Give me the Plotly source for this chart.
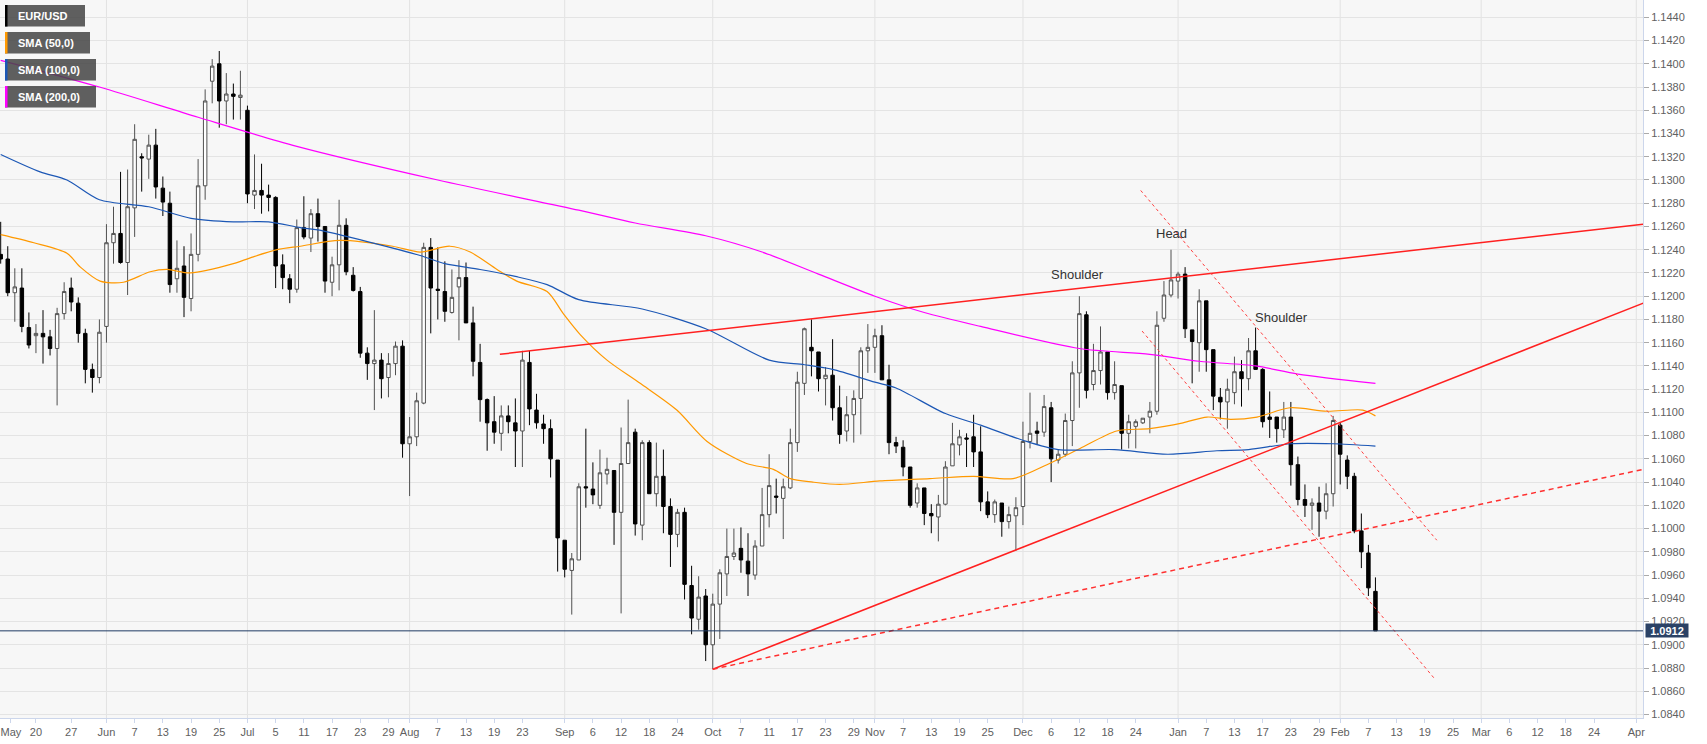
import pandas as pd
import plotly.graph_objects as go

# ---------------- data ----------------
START = "2019-05-13"          # first daily candle (weekdays only)
AXIS_END = "2020-04-01"

OPEN = [1.1236,1.1232,1.1203,1.1207,1.1173,1.1166,1.1168,1.1165,1.1155,1.1185,
        1.1207,1.1194,1.1168,1.1137,1.1130,1.1174,1.1246,1.1254,1.1229,1.1276,
        1.1320,1.1318,1.1330,1.1293,1.1280,1.1215,1.1226,1.1198,1.1236,1.1295,
        1.1385,1.1400,1.1368,1.1374,1.1371,1.1360,1.1287,1.1291,1.1287,1.1285,
        1.1227,1.1215,1.1206,1.1259,1.1250,1.1271,1.1260,1.1212,1.1227,1.1261,
        1.1218,1.1204,1.1151,1.1142,1.1145,1.1130,1.1142,1.1157,1.1073,1.1079,
        1.1108,1.1242,1.1206,1.1204,1.1186,1.1208,1.1216,1.1177,1.1143,1.1111,
        1.1092,1.1082,1.1097,1.1091,1.1084,1.1143,1.1102,1.1090,1.1086,1.1059,
        1.0990,1.0964,1.0973,1.1036,1.1034,1.1020,1.1047,1.1050,1.1014,1.1056,
        1.1083,1.1003,1.1074,1.1030,1.1045,1.1019,1.0995,1.1014,1.0951,1.0922,
        1.0942,1.0900,1.0935,1.0961,1.0976,1.0983,1.0972,1.0960,1.0985,1.1012,
        1.1028,1.1026,1.1035,1.1074,1.1125,1.1156,1.1152,1.1129,1.1132,1.1104,
        1.1084,1.1098,1.1112,1.1153,1.1156,1.1166,1.1128,1.1074,1.1070,1.1053,
        1.1022,1.1035,1.1013,1.1010,1.1021,1.1054,1.1072,1.1078,1.1079,1.1066,
        1.1023,1.1012,1.1022,1.1006,1.1011,1.1019,1.1075,1.1084,1.1083,1.1104,
        1.1059,1.1064,1.1093,1.1134,1.1184,1.1124,1.1136,1.1152,1.1117,1.1123,
        1.1082,1.1088,1.1091,1.1096,1.1101,1.1181,1.1201,1.1213,1.1219,1.1171,
        1.1160,1.1196,1.1154,1.1113,1.1109,1.1117,1.1135,1.1129,1.1153,1.1137,
        1.1096,1.1096,1.1085,1.1096,1.1055,1.1025,1.1020,1.1022,1.1015,1.1030,
        1.1089,1.1059,1.1045,1.0998,1.0979,1.0946]
HIGH = [1.1264,1.1243,1.1224,1.1224,1.1186,1.1176,1.1188,1.1171,1.1190,1.1212,
        1.1216,1.1199,1.1172,1.1142,1.1180,1.1262,1.1277,1.1307,1.1309,1.1348,
        1.1323,1.1339,1.1344,1.1303,1.1290,1.1248,1.1243,1.1254,1.1318,1.1378,
        1.1404,1.1411,1.1392,1.1383,1.1394,1.1364,1.1322,1.1314,1.1296,1.1286,
        1.1236,1.1219,1.1266,1.1286,1.1275,1.1284,1.1260,1.1234,1.1283,1.1267,
        1.1225,1.1208,1.1156,1.1188,1.1151,1.1151,1.1161,1.1162,1.1096,1.1117,
        1.1246,1.1250,1.1242,1.1230,1.1223,1.1231,1.1229,1.1191,1.1159,1.1112,
        1.1114,1.1106,1.1106,1.1112,1.1153,1.1153,1.1116,1.1098,1.1094,1.1059,
        1.0990,1.0979,1.1039,1.1086,1.1057,1.1068,1.1061,1.1050,1.1087,1.1111,
        1.1086,1.1076,1.1076,1.1074,1.1068,1.1026,1.1017,1.1018,1.0968,1.0959,
        1.0948,1.0944,1.0965,1.1000,1.1000,1.1001,1.0996,1.0990,1.1035,1.1064,
        1.1043,1.1043,1.1086,1.1135,1.1173,1.1180,1.1152,1.1139,1.1163,1.1123,
        1.1114,1.1119,1.1156,1.1176,1.1172,1.1175,1.1141,1.1079,1.1076,1.1053,
        1.1039,1.1035,1.1021,1.1029,1.1058,1.1091,1.1085,1.1082,1.1098,1.1088,
        1.1032,1.1025,1.1022,1.1019,1.1027,1.1092,1.1117,1.1092,1.1115,1.1109,
        1.1068,1.1099,1.1144,1.1200,1.1187,1.1159,1.1174,1.1152,1.1144,1.1123,
        1.1098,1.1094,1.1095,1.1109,1.1187,1.1213,1.1240,1.1221,1.1225,1.1171,
        1.1206,1.1196,1.1154,1.1121,1.1129,1.1148,1.1145,1.1164,1.1173,1.1138,
        1.1118,1.1096,1.1109,1.1109,1.1062,1.1038,1.1026,1.1036,1.1039,1.1097,
        1.1091,1.1063,1.1048,1.1013,1.0986,1.0958]
LOW = [1.1228,1.1200,1.1178,1.1169,1.1155,1.1151,1.1142,1.1149,1.1106,1.1180,
       1.1187,1.1160,1.1125,1.1117,1.1125,1.1160,1.1228,1.1228,1.1201,1.1251,
       1.1290,1.1301,1.1284,1.1269,1.1203,1.1203,1.1182,1.1187,1.1230,1.1283,
       1.1366,1.1345,1.1348,1.1352,1.1352,1.1280,1.1275,1.1271,1.1273,1.1207,
       1.1206,1.1194,1.1203,1.1249,1.1238,1.1247,1.1203,1.1200,1.1205,1.1218,
       1.1204,1.1147,1.1128,1.1102,1.1112,1.1113,1.1132,1.1061,1.1028,1.1071,
       1.1107,1.1168,1.1180,1.1178,1.1185,1.1162,1.1177,1.1131,1.1092,1.1067,
       1.1073,1.1067,1.1082,1.1053,1.1053,1.1089,1.1086,1.1073,1.1044,1.0963,
       1.0958,1.0926,1.0973,1.1018,1.1021,1.1017,1.1038,1.0986,1.0927,1.1056,
       1.0994,1.0990,1.1030,1.1019,1.0996,1.0967,1.0984,1.0939,1.0909,1.0913,
       1.0886,1.0879,1.0905,1.0942,1.0973,1.0962,1.0942,1.0956,1.0985,1.1001,
       1.1013,1.0991,1.1034,1.1066,1.1115,1.1131,1.1118,1.1106,1.1093,1.1073,
       1.1075,1.1074,1.1081,1.1134,1.1134,1.1128,1.1064,1.1065,1.1045,1.1018,
       1.1018,1.1003,1.0996,1.0989,1.1020,1.1054,1.1063,1.1053,1.1053,1.1015,
       1.1009,1.1005,1.0993,1.1000,1.0981,1.1003,1.1069,1.1072,1.1079,1.1040,
       1.1056,1.1062,1.1071,1.1104,1.1112,1.1119,1.1124,1.1111,1.1111,1.1068,
       1.1069,1.1069,1.1090,1.1082,1.1098,1.1178,1.1199,1.1198,1.1164,1.1125,
       1.1135,1.1135,1.1102,1.1094,1.1086,1.1107,1.1105,1.1119,1.1137,1.1087,
       1.1078,1.1074,1.1078,1.1037,1.1020,1.1010,1.0999,1.0993,1.1008,1.1019,
       1.1038,1.1034,1.0996,1.0966,1.0942,1.0912]
CLOSE = [1.1232,1.1203,1.1208,1.1174,1.1158,1.1168,1.1165,1.1155,1.1185,1.1204,
         1.1195,1.1168,1.1137,1.1130,1.1169,1.1246,1.1254,1.1229,1.1277,1.1335,
         1.1319,1.1330,1.1294,1.1281,1.1210,1.1224,1.1199,1.1236,1.1295,1.1368,
         1.1398,1.1368,1.1374,1.1372,1.1373,1.1288,1.1291,1.1287,1.1285,1.1226,
         1.1216,1.1206,1.1259,1.1251,1.1271,1.1260,1.1213,1.1227,1.1261,1.1221,
         1.1205,1.1151,1.1142,1.1145,1.1129,1.1142,1.1157,1.1073,1.1079,1.1110,
         1.1242,1.1207,1.1205,1.1187,1.1199,1.1216,1.1177,1.1144,1.1111,1.1091,
         1.1083,1.1097,1.1092,1.1084,1.1145,1.1103,1.1091,1.1086,1.1060,1.0992,
         1.0965,1.0974,1.1036,1.1035,1.1029,1.1048,1.1051,1.1014,1.1056,1.1074,
         1.1004,1.1074,1.1030,1.1045,1.1019,1.0995,1.1014,1.0952,1.0923,1.0941,
         1.0900,1.0935,1.0962,1.0976,1.0979,1.0973,1.0961,1.0985,1.1012,1.1037,
         1.1027,1.1036,1.1074,1.1126,1.1172,1.1153,1.1129,1.1132,1.1104,1.1081,
         1.1098,1.1112,1.1153,1.1156,1.1166,1.1128,1.1074,1.1071,1.1053,1.1020,
         1.1035,1.1013,1.1011,1.1021,1.1053,1.1073,1.1079,1.1077,1.1066,1.1023,
         1.1012,1.1023,1.1006,1.1012,1.1018,1.1075,1.1082,1.1082,1.1105,1.1060,
         1.1064,1.1093,1.1134,1.1185,1.1119,1.1136,1.1152,1.1117,1.1124,1.1082,
         1.1092,1.1092,1.1095,1.1101,1.1175,1.1201,1.1214,1.1219,1.1172,1.1161,
         1.1196,1.1154,1.1114,1.1109,1.1120,1.1135,1.1129,1.1153,1.1137,1.1092,
         1.1094,1.1086,1.1096,1.1055,1.1025,1.1020,1.1022,1.1015,1.1030,1.1093,
         1.1064,1.1045,1.0998,1.0980,1.0949,1.0912]

# moving averages, read at sample positions (candle index, price)
SMA50_IDX = [0,4.7,9.4,11.3,14.1,17.4,21.2,23.6,26.9,33,35.4,39.2,42.5,48.1,55.6,59.5,
             63.7,66.6,70.4,73.2,77.5,79.8,82.2,86,90.7,95.9,100.2,105.8,109.6,112,
             115.2,119,124.7,131.8,138,143.6,148.4,153.1,158.3,163,167.7,171.1,174.4,
             178.2,182.9,188.1,193.2,195]
SMA50_VAL = [1.1253,1.1246,1.1237,1.1225,1.1213,1.1212,1.1221,1.1223,1.1220,1.1228,1.1233,
             1.1240,1.1243,1.1248,1.1243,1.1238,1.1243,1.1238,1.1223,1.1213,1.1204,1.1185,
             1.1167,1.1145,1.1125,1.1102,1.1075,1.1056,1.1051,1.1043,1.1040,1.1038,1.1041,
             1.1043,1.1045,1.1043,1.1055,1.1069,1.1084,1.1086,1.1091,1.1096,1.1094,1.1096,
             1.1104,1.1101,1.1102,1.1097]
SMA100_IDX = [0,5.6,9.4,14,21,27,33,38,42.5,45,52,59.5,63,68,73,77.5,82,91,100,109,114,
              118,124,127,134,139,145,150,158,165.5,172.5,177,183,189,195]
SMA100_VAL = [1.1322,1.1307,1.1300,1.1283,1.1277,1.1267,1.1264,1.1264,1.1259,1.1257,1.1247,
              1.1235,1.1228,1.1223,1.1217,1.1210,1.1197,1.1189,1.1172,1.1145,1.1141,1.1137,
              1.1126,1.1121,1.1099,1.1089,1.1076,1.1068,1.1068,1.1064,1.1067,1.1068,1.1073,
              1.1073,1.1071]
SMA200_IDX = [0,14,28,42,62,82,90,100,108,116,124,131,139,153,163,170,178,184,195]
SMA200_VAL = [1.1403,1.1380,1.1354,1.1329,1.1300,1.1274,1.1263,1.1252,1.1238,1.1219,1.1200,
              1.1186,1.1174,1.1155,1.1150,1.1144,1.1140,1.1133,1.1125]

# drawn trend lines (candle index, price)
NECKLINE_IDX, NECKLINE_VAL = [70.8, 233.0], [1.1150, 1.1262]
RISE_SOLID_IDX, RISE_SOLID_VAL = [101.0, 233.0], [1.0879, 1.1194]
RISE_DASH_IDX, RISE_DASH_VAL = [101.0, 233.0], [1.0879, 1.1051]
CHAN_UP_IDX, CHAN_UP_VAL = [161.7, 203.7], [1.1291, 1.0990]
CHAN_LO_IDX, CHAN_LO_VAL = [161.9, 203.5], [1.1170, 1.0870]

PATTERN_LABELS = ["Shoulder", "Head", "Shoulder"]
PATTERN_IDX = [152.7, 166.1, 181.7]
PATTERN_VAL = [1.1219, 1.1254, 1.1182]

TICK_DATES = ["2019-05-14","2019-05-20","2019-05-27","2019-06-03","2019-06-07","2019-06-13",
              "2019-06-19","2019-06-25","2019-07-01","2019-07-05","2019-07-11","2019-07-17",
              "2019-07-23","2019-07-29","2019-08-01","2019-08-07","2019-08-13","2019-08-19",
              "2019-08-23","2019-09-02","2019-09-06","2019-09-12","2019-09-18","2019-09-24",
              "2019-10-01","2019-10-07","2019-10-11","2019-10-17","2019-10-23","2019-10-29",
              "2019-11-01","2019-11-07","2019-11-13","2019-11-19","2019-11-25","2019-12-02",
              "2019-12-06","2019-12-12","2019-12-18","2019-12-24","2020-01-01","2020-01-07",
              "2020-01-13","2020-01-17","2020-01-23","2020-01-29","2020-02-03","2020-02-07",
              "2020-02-13","2020-02-19","2020-02-25","2020-03-02","2020-03-06","2020-03-12",
              "2020-03-18","2020-03-24","2020-04-01"]
TICK_TEXT = ["May","20","27","Jun","7","13","19","25","Jul","5","11","17","23","29","Aug",
             "7","13","19","23","Sep","6","12","18","24","Oct","7","11","17","23","29","Nov",
             "7","13","19","25","Dec","6","12","18","24","Jan","7","13","17","23","29","Feb",
             "7","13","19","25","Mar","6","12","18","24","Apr"]
MONTH_LABELS = ["Jun","Jul","Aug","Sep","Oct","Nov","Dec","Jan","Feb","Mar","Apr"]

Y_TICKS = [round(1.0840 + 0.002 * k, 4) for k in range(31)]

LEGEND_TEXT = ["EUR/USD", "SMA (50,0)", "SMA (100,0)", "SMA (200,0)"]
LEGEND_COLORS = ["#000000", "#ff9900", "#1c57b5", "#ff00ff"]
LEGEND_WIDTHS = [80, 85, 91, 91]

# ---------------- build ----------------
days = pd.bdate_range(START, AXIS_END)
pos = {d.strftime("%Y-%m-%d"): i for i, d in enumerate(days)}
X = list(range(len(OPEN)))
tickvals = [pos[d] for d in TICK_DATES]
month_pos = [v for v, t in zip(tickvals, TICK_TEXT) if t in MONTH_LABELS]
# the first ("May") label sits flush with the left edge, as in the reference
tickvals[0] = tickvals[0] + 0.45

fig = go.Figure()
fig.add_trace(go.Candlestick(
    x=X, open=OPEN, high=HIGH, low=LOW, close=CLOSE,
    increasing=dict(line=dict(color="#505050", width=1), fillcolor="#ffffff"),
    decreasing=dict(line=dict(color="#000000", width=1), fillcolor="#000000"),
    whiskerwidth=0, showlegend=False, hoverinfo="skip"))

for xs, ys, col in [(SMA50_IDX, SMA50_VAL, "#ff9900"),
                    (SMA100_IDX, SMA100_VAL, "#1c57b5"),
                    (SMA200_IDX, SMA200_VAL, "#ff00ff")]:
    fig.add_trace(go.Scatter(x=xs, y=ys, mode="lines",
                             line=dict(color=col, width=1.2, shape="spline", smoothing=0.8),
                             showlegend=False, hoverinfo="skip"))

for xs, ys, dash, w, col in [
        (NECKLINE_IDX, NECKLINE_VAL, "solid", 1.5, "#ff2020"),
        (RISE_SOLID_IDX, RISE_SOLID_VAL, "solid", 1.5, "#ff2020"),
        (RISE_DASH_IDX, RISE_DASH_VAL, "5px,4px", 1.5, "#ff3030"),
        (CHAN_UP_IDX, CHAN_UP_VAL, "3px,3px", 1, "#ff4040"),
        (CHAN_LO_IDX, CHAN_LO_VAL, "3px,3px", 1, "#ff4040")]:
    fig.add_trace(go.Scatter(x=xs, y=ys, mode="lines",
                             line=dict(color=col, width=w, dash=dash),
                             showlegend=False, hoverinfo="skip"))

shapes = []
for m in month_pos:
    shapes.append(dict(type="line", xref="x", yref="paper", x0=m, x1=m, y0=0, y1=1,
                       line=dict(color="#e2e2e2", width=1), layer="below"))
last = CLOSE[-1]
shapes.append(dict(type="line", xref="paper", yref="y", x0=0, x1=1, y0=last, y1=last,
                   line=dict(color="#1f3a64", width=1), layer="above"))

annotations = []
for k, (txt, col, w) in enumerate(zip(LEGEND_TEXT, LEGEND_COLORS, LEGEND_WIDTHS)):
    top = 5 + 27 * k
    shapes.append(dict(type="rect", xref="paper", yref="paper",
                       xsizemode="pixel", ysizemode="pixel", xanchor=0, yanchor=1,
                       x0=5, x1=5 + w, y0=-top, y1=-(top + 21.5),
                       fillcolor="rgba(70,70,70,0.86)", line=dict(width=0), layer="above"))
    shapes.append(dict(type="rect", xref="paper", yref="paper",
                       xsizemode="pixel", ysizemode="pixel", xanchor=0, yanchor=1,
                       x0=5, x1=7.5, y0=-top, y1=-(top + 21.5),
                       fillcolor=col, line=dict(width=0), layer="above"))
    annotations.append(dict(xref="paper", yref="paper", x=0, y=1, xanchor="left",
                            yanchor="middle", xshift=16, yshift=-(top + 10.75),
                            text="<b>%s</b>" % txt, showarrow=False,
                            font=dict(color="white", size=11, family="Arial")))

for txt, xi, yv in zip(PATTERN_LABELS, PATTERN_IDX, PATTERN_VAL):
    annotations.append(dict(x=xi, y=yv, xref="x", yref="y", text=txt, showarrow=False,
                            font=dict(size=13, color="#333333", family="Arial")))

annotations.append(dict(xref="paper", yref="y", x=1, y=last, xanchor="left", xshift=2,
                        text="<b>%.4f</b>" % last, showarrow=False, bgcolor="#2b4266",
                        width=42, height=13, borderpad=0, align="center",
                        font=dict(color="white", size=11, family="Arial")))

fig.update_layout(
    width=1707, height=744, autosize=False,
    margin=dict(l=0, r=64, t=0, b=26, pad=0),
    paper_bgcolor="#ffffff", plot_bgcolor="#f7f7f7",
    font=dict(family="Arial", size=11, color="#606060"),
    shapes=shapes, annotations=annotations, showlegend=False,
    xaxis=dict(range=[-0.1, 232.95], rangeslider=dict(visible=False), showgrid=False,
               zeroline=False, tickmode="array", tickvals=tickvals, ticktext=TICK_TEXT,
               ticks="outside", ticklen=4, tickcolor="#ccd6eb", showline=True,
               linecolor="#ccd6eb", linewidth=1, mirror=True, tickangle=0,
               ticklabeloverflow="allow", automargin=False,
               tickfont=dict(size=11, color="#606060")),
    yaxis=dict(range=[1.0837, 1.14549], side="right", tickmode="array", tickvals=Y_TICKS,
               tickformat=".4f", showgrid=True, gridcolor="#e4e4e4", gridwidth=1,
               zeroline=False, ticks="outside", ticklen=5, tickcolor="#aaaaaa",
               showline=True, linecolor="#ccd6eb", linewidth=1, mirror=True,
               automargin=False, tickfont=dict(size=11, color="#606060")),
)

fig.write_html("out.html")
